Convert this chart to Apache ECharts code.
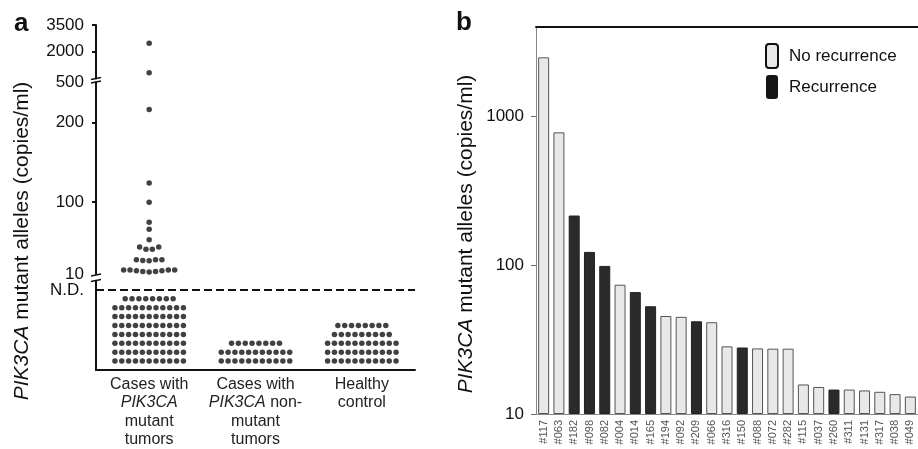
<!DOCTYPE html>
<html><head><meta charset="utf-8">
<script src="https://cdn.jsdelivr.net/npm/echarts@6/dist/echarts.min.js"></script>
<style>html,body{margin:0;padding:0;background:#fff}#c{width:918px;height:449px}</style>
</head><body><div id="c"></div>
<script>
// ---------- Panel a data ----------
const groupLabels = ['Cases with\n{i|PIK3CA}\nmutant\ntumors', 'Cases with\n{i|PIK3CA} non-\nmutant\ntumors', 'Healthy\ncontrol'];
const mutantValues = [2470, 820, 296, 124, 100, 75, 66, 53, 44, 41, 41, 44, 28, 28, 26.5, 27, 28, 15, 15, 14, 13, 12.5, 13, 14, 15, 15];
const nonMutantValues = [];
const healthyValues = [];
const ndRowCounts = [[11, 11, 11, 11, 11, 11, 11, 8], [11, 11, 8], [11, 11, 11, 9, 8]];
const aTicksTop = [2000, 3500];
const aTicksMidHigh = [500];
const aTicksMidLow = [10, 100, 200];
const ndLabel = 'N.D.';

// ---------- Panel b data ----------
const patients = ['#117','#063','#182','#098','#082','#004','#014','#165','#194','#092','#209','#066','#316','#150','#088','#072','#282','#115','#037','#260','#311','#131','#317','#038','#049'];
const copies = [2500, 783, 216, 123, 99, 74, 66, 53, 45.6, 45, 42, 41.4, 28.5, 28, 27.6, 27.5, 27.5, 15.8, 15.2, 14.6, 14.6, 14.4, 14.1, 13.6, 13.1];
const recurrence = [0,0,1,1,1,0,1,1,0,0,1,0,0,1,0,0,0,0,0,1,0,0,0,0,0];
const bTicks = [10, 100, 1000];

// ---------- layout helpers ----------
const FONT = 'Liberation Sans, Arial, Helvetica, sans-serif';
const SWARM_STEP = 0.06, ND_STEP = 0.0644, ROW_TOL = 6;
function swarm(values, center) {
  const sorted = values.slice().sort((a, b) => b - a);
  const rows = [];
  sorted.forEach(v => {
    const r = rows[rows.length - 1];
    if (r && Math.abs(r[0] - v) < ROW_TOL) r.push(v); else rows.push([v]);
  });
  const pts = [];
  rows.forEach(r => {
    const asc = r.slice().sort((a, b) => a - b);
    const n = asc.length;
    const slots = [];
    for (let i = 0; i < n; i++) slots.push(i - (n - 1) / 2);
    slots.sort((a, b) => Math.abs(a) - Math.abs(b) || a - b);
    asc.forEach((v, i) => pts.push([center + slots[i] * SWARM_STEP, v]));
  });
  return pts;
}
const allGroups = [mutantValues, nonMutantValues, healthyValues];
let swarmPts = [];
allGroups.forEach((vals, g) => { swarmPts = swarmPts.concat(swarm(vals, g + 0.5)); });
const topPts = swarmPts.filter(p => p[1] >= 500);
const midHighPts = swarmPts.filter(p => p[1] >= 200 && p[1] < 500);
const midLowPts = swarmPts.filter(p => p[1] < 200);
const ndPts = [];
ndRowCounts.forEach((rows, g) => {
  rows.forEach((n, i) => {
    for (let j = 0; j < n; j++) ndPts.push([g + 0.5 + (j - (n - 1) / 2) * ND_STEP, i]);
  });
});

const AX = '#111';
const plain = v => String(v);
const dotStyle = {type: 'scatter', symbolSize: 5.5, itemStyle: {color: '#111'}, silent: true};
function hiddenX(i) { return {type: 'value', gridIndex: i, min: 0, max: 3, show: false}; }
function yAx(i, min, max, labels, ticks) {
  return {
    type: 'value', gridIndex: i, min: min, max: max,
    axisLine: {show: true, onZero: false, lineStyle: {color: AX, width: 2}},
    axisTick: ticks ? {show: true, customValues: ticks, length: 4, lineStyle: {color: AX, width: 2}} : {show: false},
    axisLabel: {customValues: labels, formatter: plain, fontSize: 17, margin: 12, color: '#111', fontFamily: FONT},
    splitLine: {show: false}
  };
}

const chart = echarts.init(document.getElementById('c'), null, {renderer: 'canvas'});
const option = {
  animation: false,
  textStyle: {fontFamily: FONT},
  grid: [
    {left: 96, width: 319, top: 25, height: 53.4},
    {left: 96, width: 319, top: 82, height: 40.5},
    {left: 96, width: 319, top: 122.5, height: 151.5},
    {left: 96, width: 319, top: 281, height: 90},
    {left: 536, right: 0, top: 27, bottom: 35}
  ],
  xAxis: [
    hiddenX(0), hiddenX(1), hiddenX(2),
    {type: 'value', gridIndex: 3, min: 0, max: 3,
      axisLine: {show: true, onZero: false, lineStyle: {color: AX, width: 2}},
      axisTick: {show: false}, splitLine: {show: false},
      axisLabel: {customValues: [0.5, 1.5, 2.5], formatter: v => groupLabels[Math.round(v - 0.5)],
        fontSize: 16, lineHeight: 18.5, color: '#222', margin: 5, fontFamily: FONT,
        rich: {i: {fontStyle: 'italic', fontSize: 16, lineHeight: 18.5, color: '#222', fontFamily: FONT}}}},
    {type: 'category', gridIndex: 4, data: patients,
      axisLine: {show: true, onZero: false, lineStyle: {color: '#888', width: 1}},
      axisTick: {show: false},
      axisLabel: {interval: 0, rotate: 90, fontSize: 11, color: '#555', margin: 6, fontFamily: FONT}},
    {type: 'category', gridIndex: 4, data: patients, position: 'top',
      axisLine: {show: true, onZero: false, lineStyle: {color: '#111', width: 2}},
      axisTick: {show: false}, axisLabel: {show: false}}
  ],
  yAxis: [
    yAx(0, 500, 3500, aTicksTop, aTicksTop),
    yAx(1, 200, 500, aTicksMidHigh, null),
    yAx(2, 10, 200, aTicksMidLow, [100, 200]),
    yAx(3, -1, 9, [8], null),
    {type: 'log', gridIndex: 4, logBase: 10, min: 10, max: 4000, startValue: 10,
      axisLine: {show: true, onZero: false, lineStyle: {color: '#888', width: 1}},
      axisTick: {show: true, customValues: bTicks, length: 5, lineStyle: {color: '#666', width: 1}},
      axisLabel: {customValues: bTicks, formatter: plain, fontSize: 17, margin: 12, color: '#111', fontFamily: FONT},
      splitLine: {show: false}}
  ],
  legend: {
    orient: 'vertical', left: 765, top: 43, padding: 0, itemWidth: 12, itemHeight: 24, itemGap: 6,
    icon: 'roundRect', selectedMode: false,
    textStyle: {fontSize: 17, color: '#111', fontFamily: FONT, padding: [0, 0, 0, 6]},
    data: [
      {name: 'No recurrence', itemStyle: {color: '#e8e8e8', borderColor: '#111', borderWidth: 2}},
      {name: 'Recurrence', itemStyle: {color: '#151515', borderWidth: 0}}
    ]
  },
  graphic: [
    {type: 'text', x: 14, y: 24, style: {text: 'a', font: 'bold 26px ' + FONT, fill: '#111', verticalAlign: 'middle'}},
    {type: 'text', x: 456, y: 23, style: {text: 'b', font: 'bold 26px ' + FONT, fill: '#111', verticalAlign: 'middle'}},
    {type: 'text', x: 22, y: 241, rotation: Math.PI / 2,
      style: {text: '{i|PIK3CA} mutant alleles (copies/ml)', fontSize: 21, fontFamily: FONT, fill: '#111', align: 'center', verticalAlign: 'middle',
        rich: {i: {fontStyle: 'italic', fontSize: 21, fontFamily: FONT, fill: '#111'}}}},
    {type: 'text', x: 466, y: 234, rotation: Math.PI / 2,
      style: {text: '{i|PIK3CA} mutant alleles (copies/ml)', fontSize: 21, fontFamily: FONT, fill: '#111', align: 'center', verticalAlign: 'middle',
        rich: {i: {fontStyle: 'italic', fontSize: 21, fontFamily: FONT, fill: '#111'}}}},
    // axis break caps
    {type: 'line', shape: {x1: 91, y1: 79.5, x2: 101, y2: 77.5}, style: {stroke: '#111', lineWidth: 1.5}},
    {type: 'line', shape: {x1: 91, y1: 83, x2: 101, y2: 81}, style: {stroke: '#111', lineWidth: 1.5}},
    {type: 'line', shape: {x1: 91, y1: 276, x2: 101, y2: 274}, style: {stroke: '#111', lineWidth: 1.5}},
    {type: 'line', shape: {x1: 91, y1: 281.5, x2: 101, y2: 279.5}, style: {stroke: '#111', lineWidth: 1.5}}
  ],
  series: [
    Object.assign({xAxisIndex: 0, yAxisIndex: 0, data: topPts}, dotStyle),
    Object.assign({xAxisIndex: 1, yAxisIndex: 1, data: midHighPts}, dotStyle),
    Object.assign({xAxisIndex: 2, yAxisIndex: 2, data: midLowPts}, dotStyle),
    Object.assign({xAxisIndex: 3, yAxisIndex: 3, data: ndPts,
      markLine: {silent: true, symbol: ['none', 'none'], label: {show: false},
        lineStyle: {type: [8, 4], color: '#111', width: 2}, data: [{yAxis: 8}]}}, dotStyle),
    {name: 'No recurrence', type: 'bar', xAxisIndex: 4, yAxisIndex: 4, barWidth: 11, barGap: '-100%',
      data: copies.map((v, i) => recurrence[i] ? '-' : v),
      itemStyle: {color: '#e8e8e8', borderColor: '#555', borderWidth: 1}},
    {name: 'Recurrence', type: 'bar', xAxisIndex: 4, yAxisIndex: 4, barWidth: 11, barGap: '-100%',
      data: copies.map((v, i) => recurrence[i] ? v : '-'),
      itemStyle: {color: '#2a2a2a', borderColor: '#222', borderWidth: 1}}
  ]
};
option.yAxis[3].axisLabel.formatter = () => ndLabel;
chart.setOption(option);
</script></body></html>
